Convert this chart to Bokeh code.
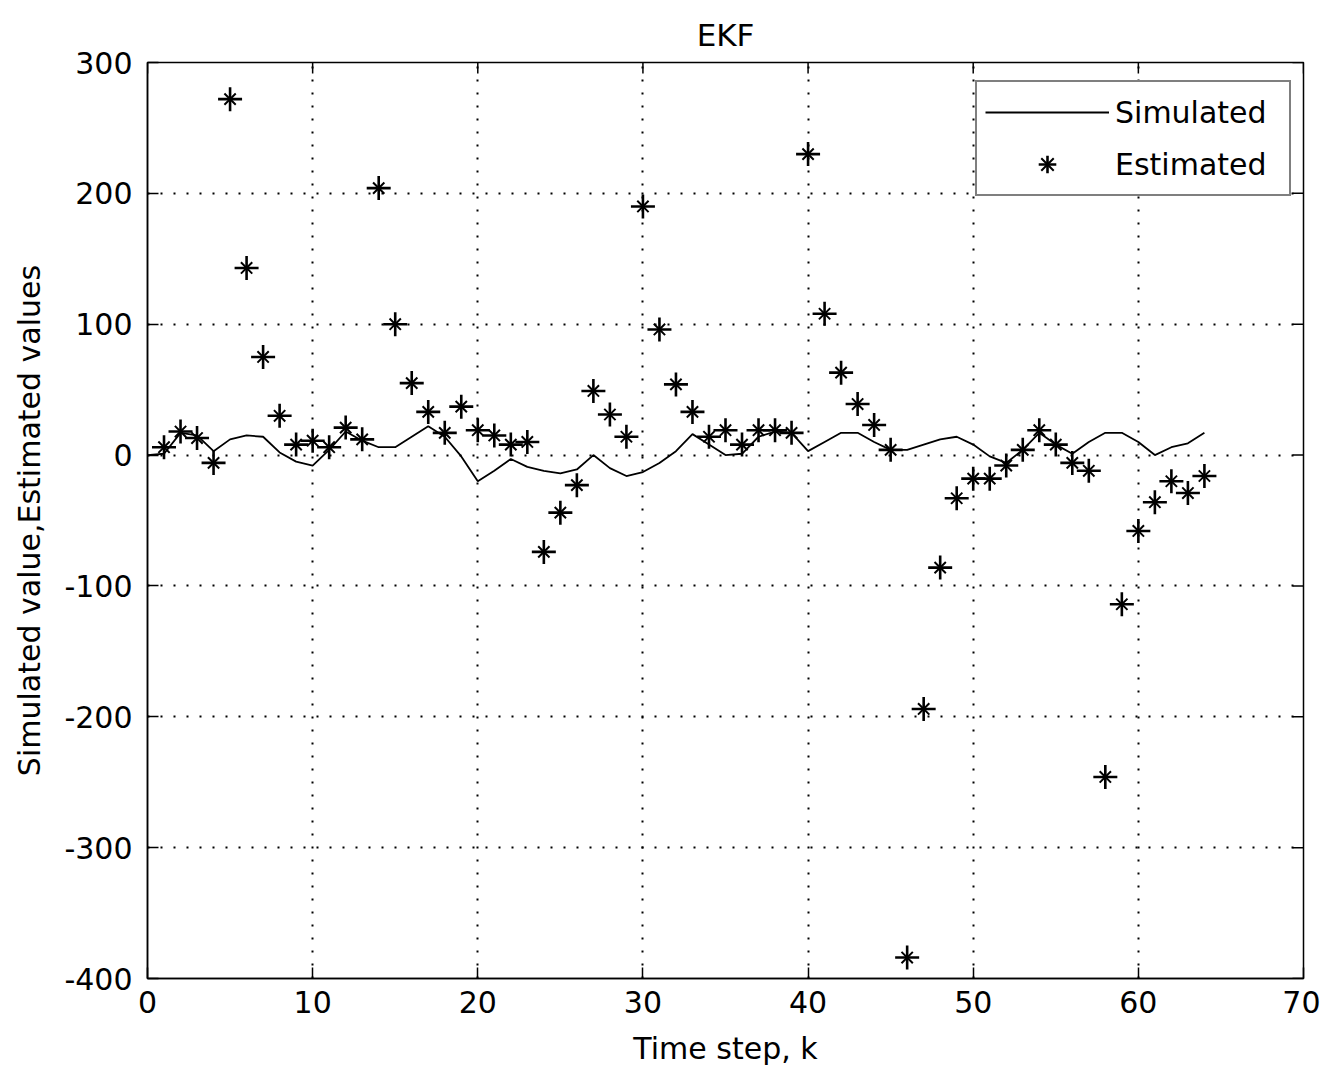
import math
from bokeh.plotting import figure
from bokeh.models import Range1d, FixedTicker, Legend, LegendItem
from bokeh.embed import file_html
from bokeh.resources import INLINE

# ---- data ----
k_sim = list(range(0, 65))
simulated = [0, 1, 17, 15, 3, 12, 15, 14, 2, -5, -8, 4, 18, 11, 6, 6, 14, 22, 14, -1,
             -20, -12, -3, -9, -12, -14, -11, 0, -10, -16, -13, -6, 3, 16, 8, 0, 1, 14, 18, 17,
             3, 10, 17, 17, 10, 4, 4, 8, 12, 14, 8, -1, -6, 4, 17, 8, 1, 10, 17, 17,
             10, 0, 6, 9, 17]
k_est = list(range(1, 65))
estimated = [6, 18, 13, -6, 272, 143, 75, 30, 8, 11, 6, 21, 12, 204, 100, 55, 33, 17, 37, 19,
             15, 8, 10, -74, -44, -23, 49, 31, 14, 190, 96, 54, 33, 14, 19, 8, 19, 19, 17, 230,
             108, 63, 39, 23, 4, -384, -194, -86, -33, -18, -18, -8, 4, 19, 8, -6, -12, -246, -114, -58,
             -36, -20, -29, -16]
x_ticks = [0, 10, 20, 30, 40, 50, 60, 70]
y_ticks = [-400, -300, -200, -100, 0, 100, 200, 300]

FONT = "DejaVu Sans"

p = figure(width=1320, height=1068, output_backend="svg", toolbar_location=None,
           x_range=Range1d(x_ticks[0], x_ticks[-1]), y_range=Range1d(y_ticks[0], y_ticks[-1]),
           min_border_left=147, min_border_right=17, min_border_top=62, min_border_bottom=90,
           x_axis_label="Time step, k", y_axis_label="Simulated value,Estimated values")

p.title.text = "EKF"
p.title.align = "center"
p.title.text_font = FONT
p.title.text_font_size = "31px"
p.title.text_font_style = "normal"
p.title.text_color = "black"
p.title.standoff = 19

p.outline_line_color = "black"
p.outline_line_width = 1.5
p.background_fill_color = "white"
p.border_fill_color = "white"

for ax, ticks in ((p.xaxis[0], x_ticks), (p.yaxis[0], y_ticks)):
    ax.ticker = FixedTicker(ticks=ticks)
    ax.major_label_overrides = {t: str(t) for t in ticks}
    ax.major_tick_in = 11
    ax.major_tick_out = 0
    ax.minor_tick_line_color = None
    ax.major_tick_line_color = "black"
    ax.major_tick_line_width = 1.5
    ax.axis_line_color = "black"
    ax.axis_line_width = 1.5
    ax.major_label_text_font = FONT
    ax.major_label_text_font_size = "30px"
    ax.major_label_text_color = "black"
    ax.axis_label_text_font = FONT
    ax.axis_label_text_font_size = "30px"
    ax.axis_label_text_font_style = "normal"
    ax.axis_label_text_color = "black"

p.xaxis[0].major_label_standoff = 12
p.xaxis[0].axis_label_standoff = 15
p.yaxis[0].major_label_standoff = 15
p.yaxis[0].axis_label_standoff = 14

# box ticks on the top and right edges (inward, 11 px)
p.ray(x=x_ticks, y=[y_ticks[-1]] * len(x_ticks), length=11, length_units="screen",
      angle=-math.pi / 2, line_color="black", line_width=1.5)
p.ray(x=[x_ticks[-1]] * len(y_ticks), y=y_ticks, length=11, length_units="screen",
      angle=math.pi, line_color="black", line_width=1.5)

for g, ticks in ((p.xgrid[0], x_ticks), (p.ygrid[0], y_ticks)):
    g.ticker = FixedTicker(ticks=ticks)
    g.grid_line_color = "black"
    g.grid_line_width = 2
    g.grid_line_dash = "2 11"

r_line = p.line(k_sim, simulated, line_color="black", line_width=1.8)
r_plus = p.scatter(k_est, estimated, marker="cross", size=24, line_color="black", line_width=2.6)
r_x = p.scatter(k_est, estimated, marker="x", size=16, line_color="black", line_width=2)

legend = Legend(items=[LegendItem(label="Simulated", renderers=[r_line]),
                       LegendItem(label="Estimated", renderers=[r_plus, r_x])],
                location=(828, 782))
legend.label_text_font = FONT
legend.label_text_font_size = "30px"
legend.label_text_color = "black"
legend.glyph_width = 124
legend.glyph_height = 44
legend.label_height = 44
legend.label_standoff = 6
legend.label_width = 166
legend.padding = 8
legend.spacing = 8
legend.margin = 0
legend.border_line_color = "black"
legend.border_line_width = 2
legend.background_fill_color = "white"
legend.background_fill_alpha = 1.0
p.add_layout(legend)

open("out.html", "w").write(file_html(p, INLINE))
